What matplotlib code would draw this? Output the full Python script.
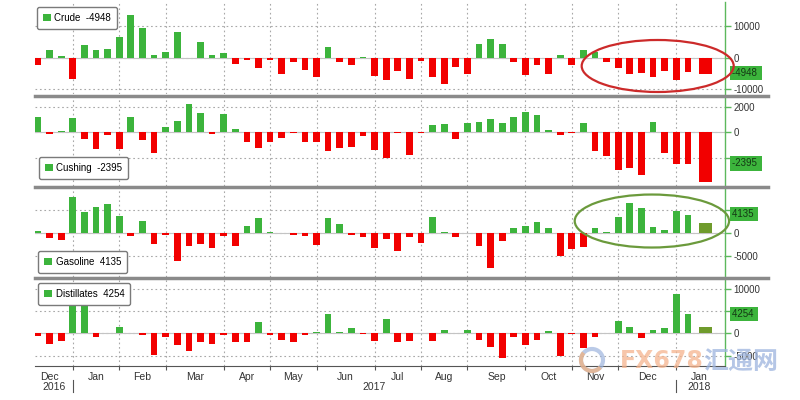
import numpy as np
import pandas as pd
import matplotlib
matplotlib.use("Agg")
import matplotlib.pyplot as plt
from matplotlib.patches import Patch, Ellipse, Arc
from matplotlib.lines import Line2D

plt.rcParams['font.family'] = ['Liberation Sans', 'Noto Sans CJK SC', 'DejaVu Sans']

# weekly inventory changes (thousand barrels)
weeks = pd.date_range('2016-12-16', periods=58, freq='W-FRI')

crude = [-2200, 2300, 600, -6600, 4100, 2300, 2800, 6400, 13500, 9500,
         800, 1700, 8200, -100, 4900, 1000, 1600, -1900, -800, -3400,
         -700, -5000, -1500, -4000, -6100, 3400, -1400, -2200, 200, -5800,
         -7000, -4300, -6800, -1200, -6000, -8400, -2800, -5000, 4400, 5900,
         4400, -1500, -5600, -2200, -5300, 800, -2200, 2300, 1800, -1500,
         -3100, -5000, -4800, -6000, -4300, -7100, -4600, -5300]
cushing = [1220, -150, 130, 1140, -520, -1250, -200, -1250, 1170, -600,
           -1560, 440, 880, 2180, 1480, -150, 1400, 260, -730, -1170,
           -730, -420, -30, -730, -730, -1430, -1170, -1120, -260, -1330,
           -1980, -40, -1750, -50, 590, 670, -490, 720, 850, 1050,
           720, 1180, 1560, 1360, 180, -180, -30, 720, -1460, -1790,
           -2940, -2740, -3330, 790, -1590, -2480, -2410, -3840]
gasoline = [400, -1230, -1520, 7830, 4570, 5580, 6240, 3700, -800, 2610,
            -2460, -500, -6090, -2830, -2540, -3400, -650, -2900, 1450, 3120,
            50, -50, -500, -800, -2610, 3120, 1890, -500, -870, -3400,
            -1450, -3900, -870, -2170, 3330, 50, -1010, -50, -2830, -7760,
            -1810, 1090, 1520, 2390, 940, -5000, -3630, -3040, 940, 50,
            3410, 6380, 5290, 1300, 580, 4710, 3840, 2030]
distillates = [-520, -2440, -1630, 7000, 7000, -740, 100, 1480, 50, -440,
               -4810, -890, -2590, -4070, -1850, -2440, -440, -2000, -1850, 2590,
               -440, -1480, -1850, -370, 370, 4220, 370, 1110, -220, -1700,
               3110, -1850, -1700, 50, -1700, 740, 50, 740, -1480, -2960,
               -5550, -740, -2590, -1480, 520, -5030, -150, -3180, -740, 100,
               2740, 1480, -1110, 740, 1110, 8880, 4290, 1330]

names = ['Crude', 'Cushing', 'Gasoline', 'Distillates']
latest = [-4948, -2395, 4135, 4254]
series = [crude, cushing, gasoline, distillates]
yticks = [[10000, 0, -10000], [2000, 0, -2000], [5000, 0, -5000], [10000, 5000, 0, -5000]]
# tick labels that sit under the value tag are not readable in the original
ytick_labels = [['10000', '0', '-10000'], ['2000', '0', ''], ['', '0', '-5000'],
                ['10000', '', '0', '-5000']]
ylims = [(-11470, 17600), (-4150, 2750), (-9630, 9720), (-7320, 12150)]

GREEN = '#3cb43c'
RED = '#f20000'
OLIVE = '#6f9b2c'
AXGREEN = '#5cb85c'
GRIDC = '#a8a8a8'

W, H = 800, 400
panels_px = [(2, 94), (97, 186), (188, 277), (279, 366)]
legend_px = [(37, 7), (39, 157), (38, 251), (38, 283)]
left_px, right_px = 35, 725

# month boundaries from week dates
month_start = [i for i in range(1, len(weeks)) if weeks[i].month != weeks[i - 1].month]
month_names = [weeks[0].strftime('%b')] + [weeks[i].strftime('%b') for i in month_start]
edges = [-1] + month_start + [len(weeks) + 1]
month_mid = [(edges[k] + edges[k + 1]) / 2 for k in range(len(month_names))]

fig = plt.figure(figsize=(8, 4), dpi=100)

x = np.arange(len(weeks), dtype=float)
x[-1] += 0.5
widths = np.full(len(weeks), 0.58)
widths[-1] = 1.15

axes = []
for k, (top, bot) in enumerate(panels_px):
    ax = fig.add_axes([left_px / W, 1 - bot / H, (right_px - left_px) / W, (bot - top) / H])
    axes.append(ax)
    vals = np.array(series[k])
    colors = [GREEN if v >= 0 else RED for v in vals]
    colors[-1] = OLIVE if vals[-1] >= 0 else RED
    ax.bar(x, vals, width=widths, color=colors, zorder=3)
    ax.axhline(0, color='#c4c4c4', lw=0.8, zorder=2)

    ax.set_xlim(-0.26, 59.2)
    ax.set_ylim(*ylims[k])
    ax.set_xticks(month_start)
    ax.set_yticks(yticks[k])
    ax.set_yticklabels(ytick_labels[k])
    ax.yaxis.tick_right()
    ax.tick_params(axis='y', colors=AXGREEN, labelcolor='#333333', labelsize=7,
                   length=4, width=1, pad=2)
    ax.grid(True, color=GRIDC, lw=0.8, ls=(0, (1.5, 2.5)), zorder=0)
    for s in ['top', 'bottom', 'left']:
        ax.spines[s].set_visible(False)
    ax.spines['right'].set_color(AXGREEN)
    ax.spines['right'].set_linewidth(1)

    if k < 3:
        ax.tick_params(axis='x', length=0, labelbottom=False)

    # legend box
    lx, ly = legend_px[k]
    ax.legend(handles=[Patch(facecolor=GREEN, edgecolor='none')],
              labels=[f'{names[k]}  {latest[k]}'], loc='upper left',
              bbox_to_anchor=((lx - left_px) / (right_px - left_px), (bot - ly) / (bot - top)),
              borderaxespad=0, fontsize=7, fancybox=True, framealpha=1,
              edgecolor='#7a7a7a', handlelength=0.8, handleheight=0.8,
              handletextpad=0.4, borderpad=0.6).set_zorder(6)

    # last value tag on the right axis
    ax.text(1.01, latest[k], f'{latest[k]} ', transform=ax.get_yaxis_transform(),
            ha='left', va='center', fontsize=7, color='#143814', zorder=7,
            bbox=dict(boxstyle='square,pad=0.22', fc=GREEN, ec='none'), clip_on=False)

ax4 = axes[3]
ax4.spines['bottom'].set_visible(True)
ax4.spines['bottom'].set_color('#555555')
ax4.tick_params(axis='x', which='major', length=3, color='#555555', labelbottom=False)
ax4.set_xticks(month_mid, minor=True)
ax4.set_xticklabels(month_names, minor=True)
ax4.tick_params(axis='x', which='minor', length=0, labelsize=7.5, labelcolor='#333333', pad=4)

xt = ax4.get_xaxis_transform()
for xi, yr in [(1.4, '2016'), ((month_start[0] + month_start[-1]) / 2, '2017'), (month_mid[-1], '2018')]:
    ax4.text(xi, -0.245, yr, transform=xt, ha='center', va='center', fontsize=7.5, color='#333333')
for xi in [month_start[0], month_start[-1]]:
    ax4.plot([xi, xi], [-0.16, -0.30], transform=xt, color='#555555', lw=0.8, clip_on=False)

# panel separators
for yp in [95.5, 186.8, 277.8]:
    fig.add_artist(Line2D([left_px / W, 768 / W], [1 - yp / H] * 2, color='#8a8a8a', lw=2.5))

# highlight ellipses
axes[0].add_patch(Ellipse((53.4, -2620), 13.1, 16430, fill=False, ec='#cc2a2a', lw=1.6,
                          clip_on=False, zorder=8))
axes[2].add_patch(Ellipse((52.9, 2540), 13.3, 11520, fill=False, ec='#6b9a3c', lw=1.6,
                          clip_on=False, zorder=8))

# watermark
fig.add_artist(Ellipse((592 / W, 1 - 360 / H), 22 / W, 22 / H, fill=False, ec='#9db4de',
                       lw=3, alpha=0.7))
fig.add_artist(Arc((592 / W, 1 - 360 / H), 22 / W, 22 / H, theta1=120, theta2=300,
                   color='#f3b07a', lw=3, alpha=0.7))
fig.text(620 / W, 1 - 361 / H, 'FX678', fontsize=17, fontweight='bold', color='#f5b48e',
         alpha=0.75, va='center', ha='left', family=['DejaVu Sans'])
fig.text(703 / W, 1 - 362 / H, '汇通网', fontsize=18, fontweight='bold', color='#9db4de',
         alpha=0.75, va='center', ha='left', family=['Noto Sans CJK SC', 'DejaVu Sans'])

fig.savefig('out.png', dpi=100)
